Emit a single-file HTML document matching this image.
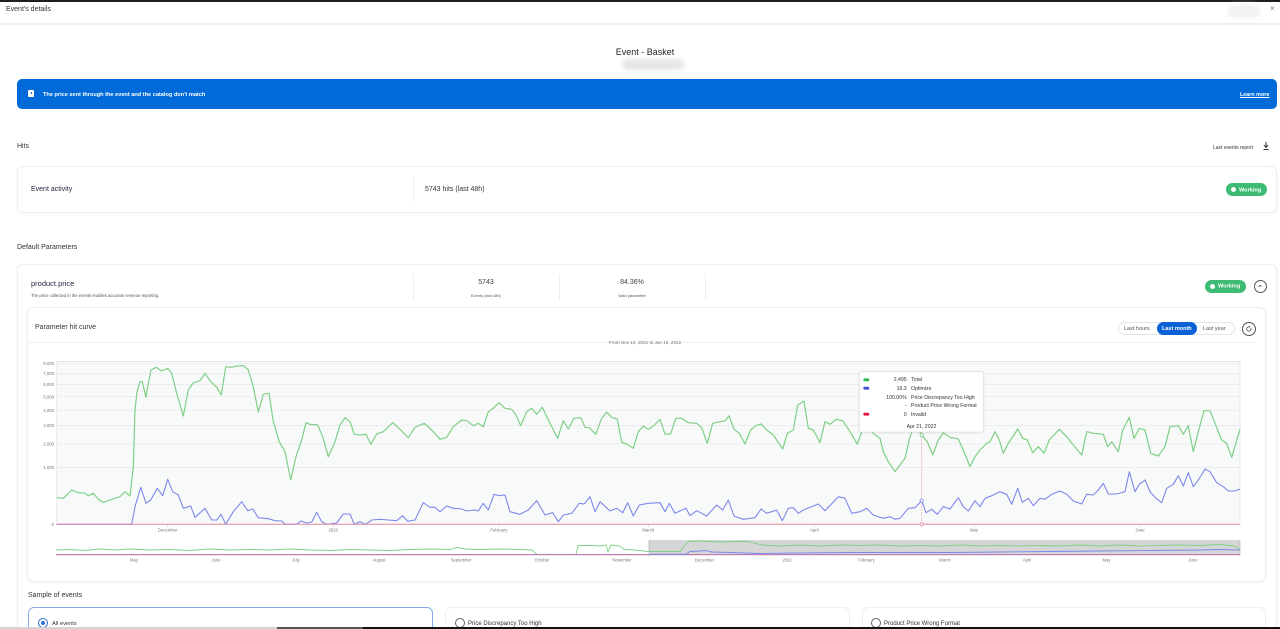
<!DOCTYPE html>
<html><head><meta charset="utf-8">
<style>
*{box-sizing:border-box;margin:0;padding:0}
html,body{width:1280px;height:629px;overflow:hidden;background:#fff;font-family:"Liberation Sans",sans-serif;color:#222}
#w{position:relative;width:1280px;height:629px;overflow:hidden}
.a{position:absolute;white-space:nowrap}
.t{margin-top:2px}
.card{position:absolute;background:#fff;border:1px solid #eceef3;border-radius:6px;box-shadow:0 1px 3px rgba(0,0,0,0.04)}
.badge{position:absolute;background:#3dba74;border-radius:7px;color:#fff;font-weight:bold;font-size:5.6px}
.badge i{position:absolute;width:5px;height:5px;border-radius:50%;background:#fff;left:5px;top:50%;margin-top:-2.5px}
.badge span{position:absolute;left:13px;top:50%;transform:translateY(-45%)}
.circ{position:absolute;border:1px solid #555;border-radius:50%;background:#fff}
.radio{position:absolute;width:10px;height:10px;border:1px solid #666;border-radius:50%;background:#fff}
</style></head><body><div id="w">
<div class="a" style="left:0;top:0;width:1280px;height:2px;background:#1e1e1e"></div>
<div class="a t" style="left:6px;top:3.5px;font-size:7px;color:#333">Event's details</div>
<div class="a" style="left:1228px;top:4px;width:32px;height:14px;border-radius:7px;background:#f2f2f2;filter:blur(2px)"></div>
<div class="a t" style="left:1270px;top:2px;font-size:8px;color:#777">×</div>
<div class="a" style="left:0;top:23px;width:1280px;height:2px;background:#eeeef4"></div>

<div class="a t" style="left:615px;top:45px;width:60px;text-align:center;font-size:9px;color:#222">Event - Basket</div>
<div class="a" style="left:622px;top:59px;width:62px;height:11px;border-radius:6px;background:#e6e6e6;filter:blur(2px)"></div>

<div class="a" style="left:17px;top:79px;width:1260px;height:30px;background:#006ad8;border-radius:5px"></div>
<div class="a" style="left:28px;top:90px;width:6px;height:7px;background:#fff;border-radius:1px"></div>
<div class="a" style="left:30.5px;top:92px;width:1px;height:2px;background:#006ad8"></div>
<div class="a t" style="left:43px;top:89.5px;font-size:5.6px;font-weight:bold;color:#fff">The price sent through the event and the catalog don't match</div>
<div class="a t" style="left:1240px;top:89.5px;font-size:5.4px;font-weight:bold;color:#fff;text-decoration:underline">Learn more</div>

<div class="a t" style="left:17px;top:141px;font-size:7px;color:#333">Hits</div>
<div class="a t" style="left:1213px;top:142.5px;font-size:5px;color:#333">Last events report</div>
<svg class="a" style="left:1262px;top:141px" width="8" height="10"><path d="M4 1 V6 M2 4 L4 6.5 L6 4 M1.5 8.5 H6.5" stroke="#333" stroke-width="1" fill="none"/></svg>

<div class="card" style="left:17px;top:166px;width:1260px;height:47px"></div>
<div class="a t" style="left:31px;top:184px;font-size:7px;color:#1d2440">Event activity</div>
<div class="a" style="left:413px;top:176px;width:1px;height:26px;background:#eceef2"></div>
<div class="a t" style="left:425px;top:184px;font-size:7px;color:#333">5743 hits (last 48h)</div>
<div class="badge" style="left:1226px;top:183px;width:41px;height:13px"><i></i><span>Working</span></div>

<div class="a t" style="left:17px;top:242px;font-size:7px;color:#333">Default Parameters</div>

<div class="card" style="left:17px;top:264px;width:1260px;height:380px"></div>
<div class="a t" style="left:31px;top:276.5px;font-size:7.5px;color:#1d2440">product.price</div>
<div class="a t" style="left:31px;top:290.5px;font-size:4.2px;color:#555">The price collected in the events enables accurate revenue reporting.</div>
<div class="a" style="left:413px;top:274px;width:1px;height:26px;background:#eceef2"></div>
<div class="a t" style="left:446px;top:276.5px;width:80px;text-align:center;font-size:7px;color:#444">5743</div>
<div class="a t" style="left:446px;top:291.3px;width:80px;text-align:center;font-size:4px;color:#555">Events (last 48h)</div>
<div class="a" style="left:559px;top:274px;width:1px;height:26px;background:#eceef2"></div>
<div class="a t" style="left:592px;top:276.5px;width:80px;text-align:center;font-size:7px;color:#444">84.36%</div>
<div class="a t" style="left:592px;top:291.3px;width:80px;text-align:center;font-size:4px;color:#555">Valid parameter</div>
<div class="a" style="left:705px;top:274px;width:1px;height:26px;background:#eceef2"></div>
<div class="badge" style="left:1205px;top:280px;width:41px;height:12.5px"><i></i><span>Working</span></div>
<div class="circ" style="left:1253.5px;top:279.5px;width:13px;height:13px"></div>
<svg class="a" style="left:1257px;top:283px" width="6" height="6"><path d="M1.5 3.8 L3 2.3 L4.5 3.8" stroke="#555" stroke-width="0.8" fill="none"/></svg>

<div class="card" style="left:27px;top:307px;width:1239px;height:275px"></div>
<div class="a t" style="left:35px;top:321.5px;font-size:7px;color:#333">Parameter hit curve</div>
<div class="a" style="left:1118px;top:321.5px;width:117px;height:13.5px;border:1px solid #e3e5ea;border-radius:7px;background:#fff"></div>
<div class="a t" style="left:1124px;top:323.5px;font-size:5.5px;color:#555">Last hours</div>
<div class="a" style="left:1157px;top:322px;width:40px;height:12.5px;border-radius:7px;background:#0a63d6"></div>
<div class="a t" style="left:1162px;top:323.5px;font-size:5.5px;font-weight:bold;color:#fff">Last month</div>
<div class="a t" style="left:1203px;top:323.5px;font-size:5.5px;color:#555">Last year</div>
<div class="circ" style="left:1241.5px;top:321.5px;width:14px;height:14px"></div>
<svg class="a" style="left:1245px;top:325px" width="8" height="8"><path d="M5.8 3 A2.2 2.2 0 1 1 4 1.8" stroke="#555" stroke-width="0.8" fill="none"/><path d="M4 0.8 L5.6 1.8 L4 2.8" fill="#555"/></svg>
<div class="a" style="left:27px;top:341.5px;width:1229px;height:1.5px;background:#eef0f5"></div>
<div class="a t" style="left:585px;top:338.3px;width:120px;text-align:center;font-size:4.6px;color:#777">From Nov 10, 2021 to Jun 19, 2022</div>

<div class="a t" style="left:28px;top:590px;font-size:7px;color:#333">Sample of events</div>
<div class="a" style="left:28px;top:607px;width:405px;height:40px;border:1px solid #86a9e6;border-radius:6px;background:#fff"></div>
<div class="radio" style="left:38px;top:617.5px;border-color:#2e6fd8"></div>
<div class="a" style="left:41px;top:620.5px;width:4px;height:4px;border-radius:50%;background:#2e6fd8"></div>
<div class="a t" style="left:52px;top:618.5px;font-size:5.7px;color:#333">All events</div>
<div class="a" style="left:445px;top:607px;width:405px;height:40px;border:1px solid #eceef3;border-radius:6px;background:#fff"></div>
<div class="radio" style="left:454.5px;top:617.5px"></div>
<div class="a t" style="left:468px;top:618.5px;font-size:6px;color:#333">Price Discrepancy Too High</div>
<div class="a" style="left:862px;top:607px;width:404px;height:40px;border:1px solid #eceef3;border-radius:6px;background:#fff"></div>
<div class="radio" style="left:871px;top:617.5px"></div>
<div class="a t" style="left:884px;top:618.5px;font-size:6px;color:#333">Product Price Wrong Format</div>

<div class="a" style="left:0;top:627px;width:277px;height:2px;background:#d4d4d4"></div>
<div class="a" style="left:277px;top:627px;width:86px;height:2px;background:#555"></div>
<div class="a" style="left:363px;top:627px;width:917px;height:2px;background:#111"></div>

<svg class="a" style="left:0;top:0" width="1280" height="629" font-family="Liberation Sans, sans-serif">
<defs><filter id="sh" x="-10%" y="-10%" width="120%" height="130%"><feDropShadow dx="0" dy="0.5" stdDeviation="1" flood-color="#000" flood-opacity="0.12"/></filter></defs>
<rect x="56.7" y="361.5" width="1183.3" height="162.8" fill="#f8faf9" stroke="#e2e4e6" stroke-width="0.8"/>
<g stroke="#e6e8ea" stroke-width="0.7">
<line x1="56.7" x2="1240" y1="363.3" y2="363.3"/><line x1="56.7" x2="1240" y1="373.4" y2="373.4"/>
<line x1="56.7" x2="1240" y1="384.6" y2="384.6"/><line x1="56.7" x2="1240" y1="396.7" y2="396.7"/>
<line x1="56.7" x2="1240" y1="410.2" y2="410.2"/><line x1="56.7" x2="1240" y1="425.4" y2="425.4"/>
<line x1="56.7" x2="1240" y1="443.8" y2="443.8"/><line x1="56.7" x2="1240" y1="467.4" y2="467.4"/>
</g>
<g font-size="4.3" fill="#777" text-anchor="end">
<text x="54" y="365">8,000</text><text x="54" y="375">7,000</text><text x="54" y="386.2">6,000</text>
<text x="54" y="398.3">5,000</text><text x="54" y="411.8">4,000</text><text x="54" y="427">3,000</text>
<text x="54" y="445.4">2,000</text><text x="54" y="469">1,000</text><text x="54" y="525.8">0</text>
</g>
<g stroke="#ccc" stroke-width="0.6">
<line x1="167.7" x2="167.7" y1="524.3" y2="527"/><line x1="333.3" x2="333.3" y1="524.3" y2="527"/>
<line x1="499" x2="499" y1="524.3" y2="527"/><line x1="648.3" x2="648.3" y1="524.3" y2="527"/>
<line x1="814.3" x2="814.3" y1="524.3" y2="527"/><line x1="974" x2="974" y1="524.3" y2="527"/>
<line x1="1140" x2="1140" y1="524.3" y2="527"/>
</g>
<g font-size="4.3" fill="#777" text-anchor="middle">
<text x="167.7" y="531.5">December</text><text x="333.3" y="531.5">2022</text><text x="499" y="531.5">February</text>
<text x="648.3" y="531.5">March</text><text x="814.3" y="531.5">April</text><text x="974" y="531.5">May</text><text x="1140" y="531.5">June</text>
</g>
<polyline fill="none" stroke="#7fcf88" stroke-width="1.2" stroke-linejoin="round" points="56.7,497.7 63.3,498.3 71.7,490 78.3,492.7 85,493.3 88.3,495.7 93.3,493.3 98.3,499.3 103.3,502.3 116.7,497.7 120,496.7 125,491.7 130,496 133.3,466.7 135,410 137,392 140,381.7 142.3,381.7 146,397.3 148,385 151,370 156,367.3 161.7,371 167.7,368.3 171.7,373.3 176.7,393.3 183.3,416 188.3,390 193.3,382.7 200,380.7 205,373.3 210,380.7 216.7,387.3 221.3,395 225.7,366.7 231.7,367.3 236.7,366 243.3,365.7 248.3,370 253.3,386.7 258.3,412 263.3,394.3 269,393.3 273.3,421.7 279.3,441.7 285,451.7 290.7,480 296,456.7 301.7,440 306,422.7 310,424.3 317.7,425 322.7,436.7 328.3,456.7 335,441.7 340,425 345,417.7 350,421.7 354.3,434.3 360,435 366,434.3 370.7,444.3 376.7,434 383.3,431.7 392.7,422.7 400,429.3 408.3,437.7 415,427.3 424.3,423.3 431.7,430 440,439.3 446.7,437.3 453.3,426.7 461.7,420 466.7,420.7 473.3,425.7 478.3,423.3 483.3,426.7 488.3,411.7 493.3,408.3 499,402.7 505,408.3 511.7,409.3 516,415 520.7,425.7 526.7,411.7 531.7,408.3 536.7,414.3 542.3,407.3 548.3,420 557.7,438.3 563.3,420.7 568.3,429 574,418.3 580.7,417.7 585,427.3 589.3,427.7 595.7,434.3 601.7,418.3 606.7,412.3 611.7,417.3 617.3,419.3 621.7,442.3 626.7,444 633.3,448.3 638.3,431.7 643.3,426 648.3,429.3 653.3,426 660,419.3 665,434.3 670.7,434 675.7,418.3 681.7,418.3 688.3,422.7 696.7,423.3 701.7,427.7 707.3,443.3 712.7,423.3 720,421.7 725,421 729,415.7 734,429.3 739.3,433.3 745,444 750.7,430 755.7,425.7 761,424 766.7,430 773.3,435 782.7,449 787.3,433.3 793.3,430 797.7,405 804,401 808.3,428.3 813.3,430 820,442.3 825,421.7 830,424.3 836,419.3 842.7,420.7 850,431.7 857.3,444.3 863,428 867,423 872.3,432.7 880,438.3 883.3,451.7 888.3,461.7 895,471.7 900,465 905,458.3 910,436.7 915,425 921.7,435 927.3,441.7 932.7,455 938.3,440 943.3,432.7 950,437.3 958.3,439 963.3,450 970,466.7 975,456.7 980,450 986.7,443.3 990,441.7 995,431.7 999.3,440 1003.3,453.3 1008.3,443.3 1013.3,436 1017.7,429 1022.7,438.3 1027.3,440 1032.7,452.7 1038.3,446.7 1044,453.3 1049.3,440 1059.3,429.3 1066.7,436.7 1073.3,445 1081.7,455 1086.7,431.7 1093.3,433.3 1103.3,434.3 1107.7,446.7 1111.7,441.7 1118.3,451.7 1122.7,430 1129.3,417.3 1134,438.3 1139.3,428.3 1145,430 1150.7,453.3 1158.3,456 1165,446.7 1170,426.7 1178.3,425.7 1183.3,434.3 1188.3,425.7 1193.3,451.7 1198.3,431.7 1204,410.7 1210,410.7 1215,423.3 1221.7,440 1226.7,443.3 1231.7,457.3 1240,429.3"/>
<polyline fill="none" stroke="#7d88ea" stroke-width="1.1" stroke-linejoin="round" points="56.7,524.3 131.7,524.3 135,506.7 140.7,487.3 146,503.3 150.7,500 157.3,488.3 162.7,495.7 167.7,479.3 172.7,491.7 178.3,495 183.3,508.3 188.3,506.7 190.7,506 195,517.3 205,508.3 211.7,520 216.7,520 221,514.3 225.7,524.3 233.3,511.7 241.7,501.7 247.7,510.7 252.7,509 258.3,517.7 268.3,518.7 275,520.7 281.7,521 285,524.3 296.7,524.3 301,521 306.7,523 311.7,522 316.7,512.3 321.7,521.7 326.7,524.3 336.7,523 343.3,514 350,514 354.3,524.3 360,521.7 365.7,524.3 371.7,520 380,519.3 388.3,520 396.7,520.7 402.7,515.7 407.7,521.3 415,520 423.3,502.7 430,507.3 435,507.3 440,511.7 446.7,506 453.3,508.3 461.7,509 466.7,511 475,510 478.3,511 483.3,503.3 488.3,510 494,494.3 499,495.7 505,495 510,511.7 520,514.3 528.3,510 536.7,500.7 545,515 552.7,512.7 558.3,521.7 563.3,515 571.7,513.3 579.3,503.3 584,504 590,496.7 595,511.7 600,501.7 610,511 616.7,508.3 622.7,512.7 627.7,502.7 633.3,516 639.3,505 648.3,503.3 660,502.7 665,511.7 669.3,503.3 675,513.3 686,508.3 690,515.7 696.7,510.7 706.7,516 716.7,505 722.7,510 728.3,500 734,516 743.3,519.3 755,517.7 761,509 766.7,513.3 776.7,510 782.3,520.7 788.3,508.3 793.3,507.7 798.3,513.3 803.3,510 818.3,504 825,510.7 838.3,496.7 845,498.3 851.7,513.3 860,511.7 866.7,508.3 873.3,515 883.3,518.3 890,516.7 895,519.3 900,518.3 908.3,508.3 915,507.7 921.7,500.7 926,512.7 931.7,509.3 937.3,514.3 943.3,506.7 950,509 958.3,497.7 963.3,506.7 968.3,511 975,500.7 980,506.7 985,498.3 991.7,495.7 1000,491.7 1006.7,494.3 1011.7,504.3 1017.7,488.3 1022.3,502.3 1028.3,498.3 1033.3,505.7 1040,498.3 1045,499.3 1051.7,494.3 1060,491 1066.7,494.3 1073.3,501 1081.7,504 1086.7,494.3 1093.3,495 1098.3,490 1103.3,483.3 1108.3,494 1116.7,494 1125,491.7 1129.3,471.7 1135,491.7 1139.3,484.3 1145,480 1150,491.7 1156,498.3 1161.7,502.7 1166.7,488.3 1173.3,484.3 1178.3,475.7 1183.3,486 1188.3,472.7 1193.3,486.7 1198.3,480 1205,469 1210,471.7 1216.7,482.7 1223.3,486.7 1228.3,491 1235,491 1240,489"/>
<line x1="56.7" x2="1240" y1="524.3" y2="524.3" stroke="#e58ca4" stroke-width="1"/>
<line x1="921.7" x2="921.7" y1="432" y2="524.3" stroke="#f0a0b4" stroke-width="0.8" stroke-dasharray="1.5,1"/>
<circle cx="921.7" cy="435" r="1.6" fill="#fff" stroke="#7fcf88" stroke-width="0.8"/>
<circle cx="921.7" cy="500.7" r="1.6" fill="#fff" stroke="#7d88ea" stroke-width="0.8"/>
<circle cx="921.7" cy="524.3" r="1.6" fill="#fff" stroke="#e58ca4" stroke-width="0.8"/>
<rect x="859.3" y="371.7" width="124" height="60.3" rx="2" fill="#fff" stroke="#dcdcdc" stroke-width="0.6" filter="url(#sh)"/>
<rect x="863.3" y="378.4" width="6" height="2.8" rx="1.4" fill="#2db84b"/>
<rect x="863.3" y="386.8" width="6" height="2.8" rx="1.4" fill="#3f52d6"/>
<rect x="863.3" y="412.8" width="6" height="2.8" rx="1.4" fill="#e0153c"/>
<g font-size="5.2" fill="#333">
<text x="906.7" y="381.2" text-anchor="end">2,495</text><text x="911" y="381.2">Total</text>
<text x="906.7" y="389.8" text-anchor="end">16.3</text><text x="911" y="389.8">Optimize</text>
<text x="906.7" y="398.8" text-anchor="end">100.00%</text><text x="911" y="398.8">Price Discrepancy Too High</text>
<text x="906.7" y="407.1" text-anchor="end">-</text><text x="911" y="407.1">Product Price Wrong Format</text>
<text x="906.7" y="415.8" text-anchor="end">0</text><text x="911" y="415.8">Invalid</text>
<text x="921.5" y="428.2" text-anchor="middle">Apr 21, 2022</text>
</g>
<rect x="649" y="540" width="591" height="15" fill="#d6d6d6"/>
<polyline fill="none" stroke="#7fcf88" stroke-width="0.9" points="56,550 70,549.5 85,550.5 100,549 115,550 130,549 150,550 170,549.5 190,550.5 210,549 230,550 250,549.5 270,550 290,549 310,550 330,550.5 350,549.5 370,550 390,550.5 410,549.5 430,549 450,549.5 457,547.5 465,549 480,549.5 500,549 520,549.5 532,550 537,554.3 576,554.3 578,545.5 595,545.5 600,546 606,545 608,552 611,545 620,546 624,549.5 635,550 648,551.5 660,551.5 680,551.5 688,541.5 700,541 720,542 735,541.5 748,541.5 762,545 780,546 800,545 820,546 840,545 860,545.5 880,545 900,546 920,545.5 940,546 960,545 980,546 1000,545.5 1020,546 1040,545.5 1060,546 1080,545 1100,546 1120,545 1140,546 1160,545.5 1180,545 1200,545.5 1220,544.5 1230,545.5 1235,546 1240,550"/>
<line x1="56" x2="1240" y1="554.5" y2="554.5" stroke="#c27ab8" stroke-width="0.9"/>
<polyline fill="none" stroke="#7d88ea" stroke-width="0.9" points="649,554.2 686,554.2 690,551.5 700,551 705,550.5 712,552 730,552.5 760,553.5 800,553 850,552.5 900,552.5 950,552.5 1000,552 1050,551.5 1100,551 1150,550.5 1200,550 1220,549.5 1240,550"/>
<line x1="56" x2="1240" y1="555.5" y2="555.5" stroke="#ccc" stroke-width="0.5"/>
<line x1="649" x2="649" y1="540" y2="556" stroke="#aaa" stroke-width="0.6"/>
<line x1="1240" x2="1240" y1="540" y2="556" stroke="#aaa" stroke-width="0.6"/>
<g font-size="4.2" fill="#777" text-anchor="middle">
<text x="134" y="561.5">May</text><text x="216" y="561.5">June</text><text x="296" y="561.5">July</text>
<text x="379" y="561.5">August</text><text x="461" y="561.5">September</text><text x="542" y="561.5">October</text>
<text x="622" y="561.5">November</text><text x="704.5" y="561.5">December</text><text x="787" y="561.5">2022</text>
<text x="866.5" y="561.5">February</text><text x="945" y="561.5">March</text><text x="1027" y="561.5">April</text>
<text x="1106.5" y="561.5">May</text><text x="1193" y="561.5">June</text>
</g>
</svg>
</div></body></html>
